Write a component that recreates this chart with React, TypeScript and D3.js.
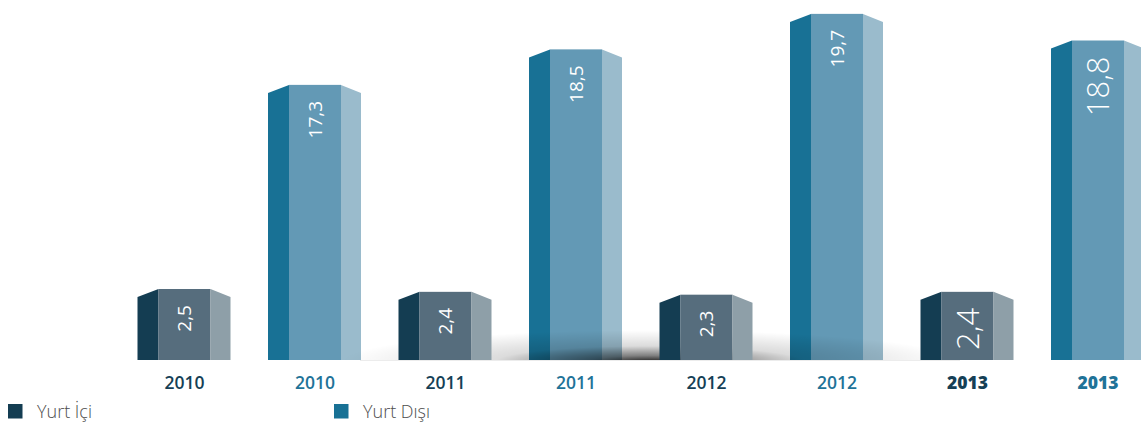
import React from "react";
import * as d3 from "d3";

const years = ["2010", "2011", "2012", "2013"];
const domestic = [2.5, 2.4, 2.3, 2.4]; // Yurt İçi
const abroad = [17.3, 18.5, 19.7, 18.8]; // Yurt Dışı
const seriesNames = ["Yurt İçi", "Yurt Dışı"];
const valueLabels = (v: number) => String(v).replace(".", ",");

const W = 1141;
const H = 425;
const BASE = 360;

const palette = {
  ic: { left: "#143d52", front: "#566d7d", right: "#8e9fa8", label: "#153f56" },
  dis: { left: "#187195", front: "#6399b5", right: "#9abbcc", label: "#1f7398" },
};

type Item = { key: string; year: string; series: 0 | 1; value: number };
const items: Item[] = [];
years.forEach((y, i) => {
  items.push({ key: y + "-ic", year: y, series: 0, value: domestic[i] });
  items.push({ key: y + "-dis", year: y, series: 1, value: abroad[i] });
});

const x = d3.scalePoint<string>().domain(items.map((d) => d.key)).range([119.25, 1163.25]).padding(0.5);
const hIc = d3.scaleLinear().domain([0, 2.5]).range([0, 71]);
const hDis = d3.scaleLinear().domain([8, 20]).range([0, 355]);

const LEFT_W = 21;
const FRONT_W = 52;
const RIGHT_W = 20;
const SLANT = 8;

function Bar({ d }: { d: Item }) {
  const c = d.series === 0 ? palette.ic : palette.dis;
  const cx = x(d.key)!;
  const h = d.series === 0 ? hIc(d.value) : hDis(d.value);
  const top = BASE - h;
  const xf0 = cx - FRONT_W / 2;
  const xf1 = cx + FRONT_W / 2;
  const xl = xf0 - LEFT_W;
  const xr = xf1 + RIGHT_W;
  const big = d.year === "2013";
  const fs = big ? 31 : 19;
  const lx = cx + fs * 0.36;
  const ly = top + 16;
  return (
    <g>
      <path d={`M${xl},${top + SLANT}L${xf0},${top}L${xf0},${BASE}L${xl},${BASE}Z`} fill={c.left} />
      <rect x={xf0} y={top} width={FRONT_W} height={h} fill={c.front} />
      <path d={`M${xf1},${top}L${xr},${top + SLANT}L${xr},${BASE}L${xf1},${BASE}Z`} fill={c.right} />
      <text
        x={lx}
        y={ly}
        transform={`rotate(-90 ${lx} ${ly})`}
        textAnchor="end"
        fill="#ffffff"
        fontFamily="'Open Sans', sans-serif"
        fontWeight={big ? 300 : 400}
        fontSize={fs}
      >
        {valueLabels(d.value)}
      </text>
    </g>
  );
}

export default function App() {
  const icItems = items.filter((d) => d.series === 0);
  const disItems = items.filter((d) => d.series === 1);
  return (
    <svg
      width={W}
      height={H}
      viewBox={`0 0 ${W} ${H}`}
      style={{ position: "absolute", left: 0, top: 0, display: "block", background: "#fff" }}
    >
      <defs>
        <radialGradient id="shadowGrad" cx="0.5" cy="0.5" r="0.5">
          <stop offset="0" stopColor="#000" stopOpacity={0.9} />
          <stop offset="0.2" stopColor="#000" stopOpacity={0.5} />
          <stop offset="0.5" stopColor="#000" stopOpacity={0.14} />
          <stop offset="1" stopColor="#000" stopOpacity={0} />
        </radialGradient>
        <clipPath id="aboveBase">
          <rect x={0} y={0} width={W} height={BASE} />
        </clipPath>
      </defs>
      <rect width={W} height={H} fill="#fff" />
      {disItems.map((d) => (
        <Bar key={d.key} d={d} />
      ))}
      <g clipPath="url(#aboveBase)">
        <ellipse cx={650} cy={362} rx={310} ry={32} fill="url(#shadowGrad)" />
      </g>
      <line x1={360} x2={960} y1={BASE + 0.5} y2={BASE + 0.5} stroke="#ececec" strokeWidth={1} />
      {icItems.map((d) => (
        <Bar key={d.key} d={d} />
      ))}
      {items.map((d) => {
        const c = d.series === 0 ? palette.ic : palette.dis;
        const big = d.year === "2013";
        return (
          <text
            key={"lbl-" + d.key}
            x={x(d.key)!}
            y={389}
            textAnchor="middle"
            fill={c.label}
            fontFamily="'Open Sans', sans-serif"
            fontWeight={big ? 800 : 600}
            fontSize={17.5}
          >
            {d.year}
          </text>
        );
      })}
      {seriesNames.map((name, i) => {
        const lx = i === 0 ? 8 : 334;
        return (
          <g key={name}>
            <rect x={lx} y={404} width={14.5} height={14.5} fill={i === 0 ? palette.ic.left : palette.dis.left} />
            <text
              x={lx + 29}
              y={418}
              fill="#4d4d4d"
              fontFamily="'Open Sans', sans-serif"
              fontWeight={300}
              fontSize={18}
            >
              {name}
            </text>
          </g>
        );
      })}
    </svg>
  );
}
